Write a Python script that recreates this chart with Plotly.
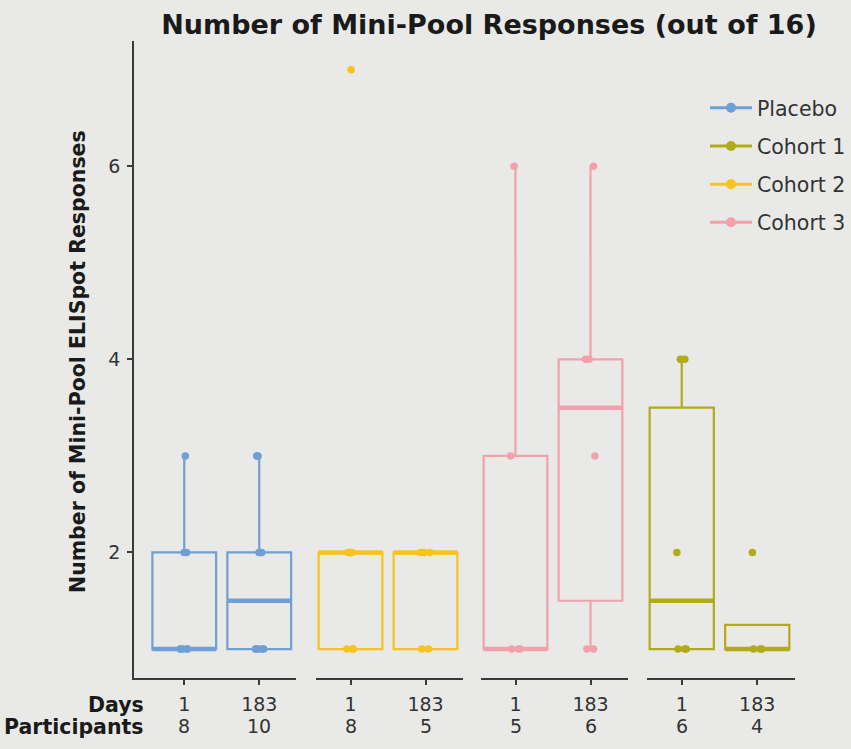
import numpy as np
import plotly.graph_objects as go

# ---------------- data ----------------
facet_groups = ["Placebo", "Cohort 2", "Cohort 3", "Cohort 1"]
legend_groups = ["Placebo", "Cohort 1", "Cohort 2", "Cohort 3"]
day_labels = ["1", "183"]

placebo_d1 = [1, 1, 1, 1, 1, 2, 2, 3]
placebo_d183 = [1, 1, 1, 1, 1, 2, 2, 2, 3, 3]
cohort2_d1 = [1, 1, 1, 2, 2, 2, 2, 7]
cohort2_d183 = [1, 1, 2, 2, 2]
cohort3_d1 = [1, 1, 1, 3, 6]
cohort3_d183 = [1, 1, 3, 4, 4, 6]
cohort1_d1 = [1, 1, 1, 2, 4, 4]
cohort1_d183 = [1, 1, 1, 2]

participants_placebo = [8, 10]
participants_cohort2 = [8, 5]
participants_cohort3 = [5, 6]
participants_cohort1 = [6, 4]

y_ticks = [2, 4, 6]

# ---------------- styles ----------------
colors = {
    "Placebo": "#6f9fd5",
    "Cohort 1": "#b1ab17",
    "Cohort 2": "#f7c31c",
    "Cohort 3": "#f2a1ab",
}
BG = "#e9eae7"
AX = "#3a3a3a"
TXT = "#333333"
DARK = "#1a1a1a"
FONT = "DejaVu Sans, Liberation Sans, sans-serif"

W, H = 851, 749


def px_x(px):
    return px / W


def px_y(py):
    return 1 - py / H


facet_px = [(134, 296), (316, 463), (481, 628), (647, 795)]
facet_ranges = [[-0.67, 1.49], [-0.46, 1.5], [-0.46, 1.5], [-0.46, 1.5]]
y_px = (40.7, 678)

facet_data = {
    "Placebo": ([placebo_d1, placebo_d183], participants_placebo),
    "Cohort 2": ([cohort2_d1, cohort2_d183], participants_cohort2),
    "Cohort 3": ([cohort3_d1, cohort3_d183], participants_cohort3),
    "Cohort 1": ([cohort1_d1, cohort1_d183], participants_cohort1),
}


def box_stats(vals):
    a = np.asarray(vals, dtype=float)
    q1, med, q3 = np.percentile(a, [25, 50, 75])
    iqr = q3 - q1
    lf = a[a >= q1 - 1.5 * iqr].min()
    uf = a[a <= q3 + 1.5 * iqr].max()
    return q1, med, q3, lf, uf


fig = go.Figure()
BOXW = 0.85

for fi, grp in enumerate(facet_groups):
    xa = "x" if fi == 0 else f"x{fi + 1}"
    col = colors[grp]
    series, parts = facet_data[grp]
    for j, vals in enumerate(series):
        q1, med, q3, lf, uf = box_stats(vals)
        fig.add_trace(go.Box(
            x=[j], q1=[q1], median=[med], q3=[q3], lowerfence=[lf], upperfence=[uf],
            width=BOXW, whiskerwidth=0, line=dict(color=col, width=2.2),
            fillcolor="rgba(0,0,0,0)", boxpoints=False, showlegend=False,
            xaxis=xa, yaxis="y", hoverinfo="skip",
        ))
        fig.add_trace(go.Box(
            x=[j], q1=[med], median=[med], q3=[med], lowerfence=[med], upperfence=[med],
            width=BOXW, whiskerwidth=0, line=dict(color=col, width=4.5),
            fillcolor="rgba(0,0,0,0)", boxpoints=False, showlegend=False,
            xaxis=xa, yaxis="y", hoverinfo="skip",
        ))
        fig.add_trace(go.Box(
            x=[j] * len(vals), y=vals, width=BOXW,
            boxpoints="all", jitter=0.18, pointpos=0,
            line=dict(color="rgba(0,0,0,0)", width=0), fillcolor="rgba(0,0,0,0)",
            marker=dict(color=col, size=7.5), showlegend=False,
            xaxis=xa, yaxis="y", hoverinfo="y",
        ))
    for j, p in enumerate(parts):
        fig.add_annotation(x=j, xref=xa, y=px_y(726), yref="paper",
                           text=str(p), showarrow=False, yanchor="middle",
                           font=dict(size=19, color=TXT, family=FONT))

for k, grp in enumerate(legend_groups):
    fig.add_trace(go.Scatter(
        x=[None], y=[None], mode="lines+markers", name=grp,
        line=dict(color=colors[grp], width=3), marker=dict(color=colors[grp], size=10),
        legendgroup=grp, showlegend=True, xaxis="x", yaxis="y",
    ))

axis_common = dict(
    showline=True, linecolor=AX, linewidth=1.5, ticks="outside", ticklen=5,
    tickcolor=AX, tickwidth=1.5, showgrid=False, zeroline=False, fixedrange=True,
    tickfont=dict(size=19, color=TXT, family=FONT),
)

layout = {}
for fi in range(4):
    key = "xaxis" if fi == 0 else f"xaxis{fi + 1}"
    l, r = facet_px[fi]
    layout[key] = dict(
        domain=[px_x(l), px_x(r)], range=facet_ranges[fi], anchor="y",
        tickmode="array", tickvals=[0, 1], ticktext=day_labels,
        ticklabelstandoff=3, **axis_common,
    )

layout["yaxis"] = dict(
    domain=[px_y(y_px[1]), px_y(y_px[0])], range=[0.7, 7.3], anchor="x",
    tickmode="array", tickvals=y_ticks, ticktext=[str(v) for v in y_ticks],
    ticklabelstandoff=3, **axis_common,
)

fig.update_layout(
    width=W, height=H, autosize=False,
    margin=dict(l=0, r=0, t=0, b=0),
    paper_bgcolor=BG, plot_bgcolor=BG,
    font=dict(family=FONT, color=TXT),
    title=dict(text="<b>Number of Mini-Pool Responses (out of 16)</b>",
               x=px_x(489), xanchor="center", y=px_y(25), yanchor="middle",
               font=dict(size=27, color=DARK, family=FONT)),
    showlegend=True,
    legend=dict(x=1, xanchor="right", y=px_y(88), yanchor="top",
                bgcolor="rgba(0,0,0,0)", font=dict(size=20.5, color=TXT, family=FONT),
                traceorder="grouped", tracegroupgap=8.5, itemwidth=42),
    **layout,
)

fig.add_annotation(x=px_x(146), xref="paper", y=px_y(705), yref="paper", text="<b>Days</b>",
                   showarrow=False, xanchor="right", yanchor="middle",
                   font=dict(size=20.5, color=DARK, family=FONT))
fig.add_annotation(x=px_x(146), xref="paper", y=px_y(727), yref="paper", text="<b>Participants</b>",
                   showarrow=False, xanchor="right", yanchor="middle",
                   font=dict(size=20.5, color=DARK, family=FONT))
fig.add_annotation(x=px_x(78), xref="paper", y=px_y(362), yref="paper",
                   text="<b>Number of Mini-Pool ELISpot Responses</b>", textangle=-90,
                   showarrow=False, xanchor="center", yanchor="middle",
                   font=dict(size=20.5, color=DARK, family=FONT))

fig.write_html(
    "out.html",
    config={"displayModeBar": False},
    post_script="document.body.style.margin='0';document.body.style.overflow='hidden';"
                "document.documentElement.style.overflow='hidden';",
)
